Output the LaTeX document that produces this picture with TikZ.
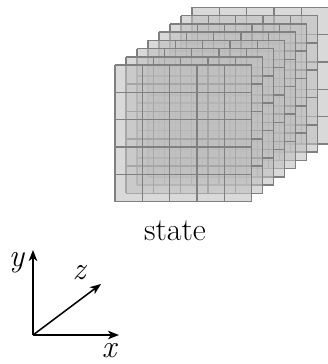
\documentclass[tikz,border=0pt]{standalone}
\usepackage{fontspec}
\usetikzlibrary{arrows.meta}
\definecolor{layerfill}{RGB}{192,192,192}
\definecolor{layerline}{RGB}{128,128,128}
\begin{document}
\begin{tikzpicture}[x=1pt,y=-1pt,
  layerbox/.style={fill=layerfill,fill opacity=0.6,draw=none},
  layergrid/.style={draw=layerline,line width=1.5pt},
  axis/.style={line width=1.5pt,-{Stealth[length=11pt,width=8.5pt,inset=3pt]}},
  lbl/.style={font=\fontsize{32}{38}\selectfont,inner sep=0pt}]
\useasboundingbox (0,0) rectangle (328,364);
\def\cs{27.333}
\def\sz{136.667}
\foreach \i in {7,6,...,0}{
  \pgfmathsetmacro\xo{115+11*\i}
  \pgfmathsetmacro\yo{65-8.25*\i}
  \path[layerbox] (\xo,\yo) rectangle ++(\sz,\sz);
  \foreach \k in {0,...,5}{
    \draw[layergrid] (\xo+\k*\cs,\yo) -- ++(0,\sz);
    \draw[layergrid] (\xo,\yo+\k*\cs) -- ++(\sz,0);
  }
}
\node[lbl,anchor=base] (state) at (175,240) {state};
\coordinate (O) at (33,335);
\coordinate (X) at (119,335);
\coordinate (Y) at (33,250);
\coordinate (Z) at (101,284);
\draw[axis] (O) -- (X);
\draw[axis] (O) -- (Y);
\draw[axis] (O) -- (Z);
\node[lbl] (ylab) at (17,263) {\textit{y}};
\node[lbl] (zlab) at (80,273) {\textit{z}};
\node[lbl] (xlab) at (110,351) {\textit{x}};
\end{tikzpicture}
\end{document}
